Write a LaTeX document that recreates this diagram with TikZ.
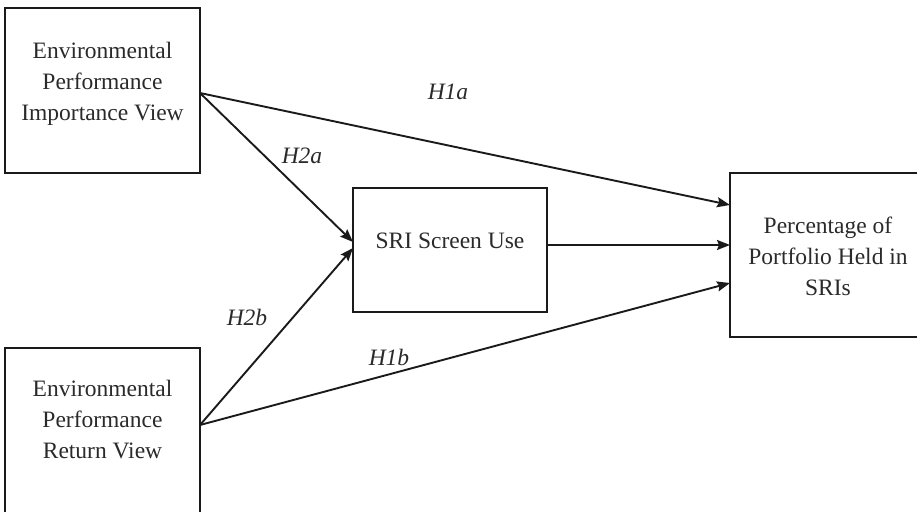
\documentclass[tikz,border=0pt]{standalone}
\usepackage{fontspec}
\setmainfont{Liberation Serif}
\usetikzlibrary{arrows.meta}
\definecolor{ink}{HTML}{1A1A1A}
\definecolor{txtc}{HTML}{2A2A2A}
\tikzset{
  box/.style={draw=ink, line width=2pt, rectangle, inner sep=0pt},
  txt/.style={align=center, text=txtc, font=\fontsize{23.5}{31}\selectfont, inner sep=0pt},
  hyp/.style={text=txtc, font=\fontsize{23.5}{28}\selectfont\itshape, inner sep=0pt},
  link/.style={draw=ink, line width=1.9pt, -{Stealth[length=13pt,width=10pt,inset=2pt]}},
}
\begin{document}
\begin{tikzpicture}[x=1pt,y=-1pt]
\useasboundingbox (0,0) rectangle (917,511);
\clip (0,0) rectangle (917,511);
% boxes
\node[box, minimum width=195pt, minimum height=165pt] (imp) at (102.5,90.5) {};
\node[box, minimum width=195pt, minimum height=165pt] (ret) at (102.5,430.5) {};
\node[box, minimum width=194pt, minimum height=124pt] (sri) at (450,250) {};
\node[box, minimum width=196pt, minimum height=164pt] (pct) at (828,255) {};
% texts
\node[txt] (impt) at (102.5,83.5) {Environmental\\Performance\\Importance View};
\node[txt] (rett) at (102.5,420) {Environmental\\Performance\\Return View};
\node[txt, anchor=base] (srit) at (450,248) {SRI Screen Use};
\node[txt] (pctt) at (828,256) {Percentage of\\Portfolio Held in\\SRIs};
% anchor points
\coordinate (impo) at (200,93);
\coordinate (reto) at (200,425);
\coordinate (sriA) at (353,242);
\coordinate (sriB) at (353,248);
\coordinate (sriR) at (547,245);
\coordinate (pctA) at (730,205);
\coordinate (pctB) at (730,245);
\coordinate (pctC) at (730,283);
% connectors
\draw[link] (impo) -- (pctA);
\draw[link] (impo) -- (sriA);
\draw[link] (reto) -- (sriB);
\draw[link] (reto) -- (pctC);
\draw[link] (sriR) -- (pctB);
% labels
\node[hyp] (h1a) at (448,92) {H1a};
\node[hyp] (h2a) at (302,156) {H2a};
\node[hyp] (h2b) at (247,317) {H2b};
\node[hyp] (h1b) at (389,357) {H1b};
\end{tikzpicture}
\end{document}
